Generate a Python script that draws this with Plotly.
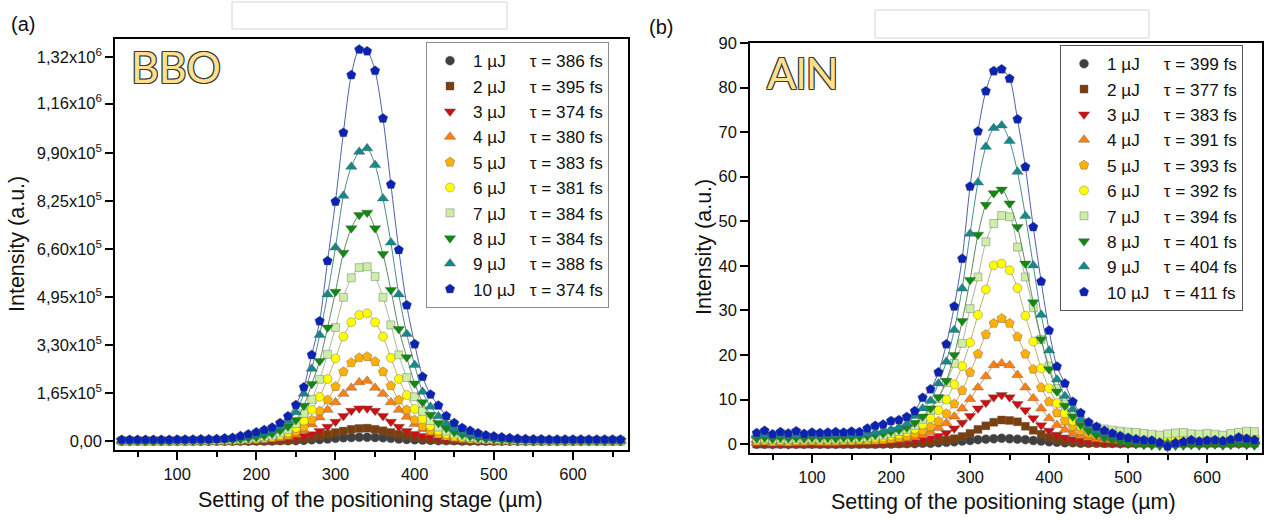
import plotly.graph_objects as go

# ---------------- data ----------------
stage = list(range(30, 661, 10))  # positioning stage settings (µm)

energies = ["1 µJ", "2 µJ", "3 µJ", "4 µJ", "5 µJ", "6 µJ", "7 µJ", "8 µJ", "9 µJ", "10 µJ"]
tau_bbo = [386, 395, 374, 380, 383, 381, 384, 384, 388, 374]
tau_aln = [399, 377, 383, 391, 393, 392, 394, 401, 404, 411]

# BBO intensities in units of 1e5
bbo_1 = [0]*13 + [0, 0, 0, 0, 0, 0, 0, 0.01, 0.01, 0.01,
                  0.02, 0.04, 0.05, 0.07, 0.09, 0.11, 0.12, 0.13, 0.13, 0.12,
                  0.11, 0.09, 0.07, 0.05, 0.04, 0.03, 0.02, 0.01, 0.01, 0.01,
                  0, 0, 0, 0, 0, 0, 0, 0, 0, 0,
                  0, 0, 0, 0, 0, 0, 0, 0, 0, 0, 0]
bbo_2 = [0]*13 + [0, 0, 0, 0, 0.01, 0.01, 0.02, 0.02, 0.03, 0.05,
                  0.08, 0.12, 0.18, 0.23, 0.29, 0.34, 0.40, 0.43, 0.44, 0.40,
                  0.35, 0.29, 0.23, 0.18, 0.13, 0.09, 0.06, 0.04, 0.03, 0.02,
                  0.01, 0.01, 0.01, 0, 0, 0, 0, 0, 0, 0,
                  0, 0, 0, 0, 0, 0, 0, 0, 0, 0, 0]
bbo_3 = [0]*13 + [0, 0, 0.01, 0.01, 0.02, 0.03, 0.04, 0.05, 0.08, 0.12,
                  0.17, 0.23, 0.34, 0.49, 0.66, 0.86, 1.04, 1.12, 1.12, 1.04,
                  0.86, 0.66, 0.49, 0.34, 0.24, 0.17, 0.12, 0.08, 0.06, 0.04,
                  0.03, 0.02, 0.01, 0.01, 0, 0, 0, 0, 0, 0,
                  0, 0, 0, 0, 0, 0, 0, 0, 0, 0, 0]
bbo_4 = [0]*13 + [0, 0.01, 0.02, 0.03, 0.04, 0.05, 0.07, 0.10, 0.14, 0.21,
                  0.37, 0.57, 0.81, 1.07, 1.33, 1.62, 1.83, 2.02, 2.07, 1.83,
                  1.62, 1.33, 1.07, 0.83, 0.58, 0.40, 0.28, 0.19, 0.13, 0.09,
                  0.07, 0.05, 0.04, 0.03, 0.02, 0.01, 0.01, 0.01, 0, 0,
                  0, 0, 0, 0, 0, 0, 0, 0, 0, 0, 0]
bbo_5 = [0]*11 + [0.01, 0.01,
                  0.01, 0.02, 0.03, 0.04, 0.06, 0.08, 0.11, 0.15, 0.21, 0.32,
                  0.48, 0.72, 1.03, 1.41, 1.87, 2.38, 2.69, 2.86, 2.90, 2.73,
                  2.38, 1.90, 1.41, 1.07, 0.72, 0.50, 0.35, 0.24, 0.17, 0.12,
                  0.09, 0.06, 0.05, 0.04, 0.03, 0.02, 0.02, 0.01, 0.01, 0.01,
                  0, 0, 0, 0, 0, 0, 0, 0, 0, 0, 0]
bbo_6 = [0]*10 + [0.01, 0.01, 0.01,
                  0.02, 0.03, 0.04, 0.06, 0.08, 0.11, 0.15, 0.21, 0.30, 0.45,
                  0.70, 1.07, 1.52, 2.13, 2.84, 3.59, 4.08, 4.33, 4.39, 4.08,
                  3.59, 2.86, 2.13, 1.58, 1.10, 0.76, 0.52, 0.36, 0.25, 0.18,
                  0.13, 0.09, 0.07, 0.05, 0.04, 0.03, 0.02, 0.02, 0.01, 0.01,
                  0.01, 0, 0, 0, 0, 0, 0, 0, 0, 0, 0]
bbo_7 = [0.01, 0.01, 0.01, 0.01, 0.01, 0.01, 0.01, 0.01, 0.01, 0.01, 0.02, 0.02, 0.02,
         0.03, 0.04, 0.06, 0.08, 0.11, 0.15, 0.20, 0.28, 0.40, 0.60,
         0.95, 1.43, 2.12, 2.98, 3.90, 4.94, 5.61, 5.96, 5.99, 5.65,
         4.94, 3.99, 2.96, 2.18, 1.52, 1.02, 0.70, 0.48, 0.34, 0.24,
         0.17, 0.12, 0.09, 0.06, 0.05, 0.04, 0.03, 0.02, 0.02, 0.02,
         0.02, 0.01, 0.01, 0.01, 0.01, 0.01, 0.01, 0.01, 0.01, 0.01, 0.01]
bbo_8 = [0, 0, 0, 0, 0, 0, 0, 0.01, 0.01, 0.01, 0.01, 0.02, 0.03,
         0.04, 0.05, 0.07, 0.10, 0.14, 0.19, 0.26, 0.36, 0.50, 0.72,
         1.21, 1.96, 2.75, 3.90, 5.13, 6.47, 7.31, 7.77, 7.85, 7.31,
         6.43, 5.19, 3.85, 2.88, 1.98, 1.33, 0.90, 0.62, 0.44, 0.31,
         0.22, 0.16, 0.11, 0.08, 0.06, 0.04, 0.03, 0.02, 0.01, 0.01,
         0.01, 0, 0, 0, 0, 0, 0, 0, 0, 0, 0]
bbo_9 = [0.02, 0.02, 0.02, 0.02, 0.02, 0.02, 0.02, 0.02, 0.03, 0.03, 0.03, 0.04, 0.05,
         0.06, 0.08, 0.11, 0.15, 0.20, 0.27, 0.36, 0.49, 0.68, 0.99,
         1.62, 2.48, 3.64, 5.04, 6.65, 8.43, 9.43, 9.94, 10.06, 9.49,
         8.34, 6.82, 5.04, 3.68, 2.61, 1.69, 1.18, 0.85, 0.60, 0.42,
         0.30, 0.22, 0.16, 0.12, 0.09, 0.07, 0.05, 0.04, 0.03, 0.03,
         0.03, 0.02, 0.02, 0.02, 0.02, 0.02, 0.02, 0.02, 0.02, 0.02, 0.02]
bbo_10 = [0.04, 0.04, 0.04, 0.04, 0.04, 0.04, 0.04, 0.05, 0.05, 0.05, 0.06, 0.06, 0.07,
          0.09, 0.11, 0.17, 0.23, 0.30, 0.38, 0.46, 0.62, 0.85, 1.24,
          1.85, 2.96, 4.12, 6.19, 8.23, 10.60, 12.58, 13.46, 13.40, 12.73,
          11.09, 8.82, 6.57, 4.67, 3.33, 2.21, 1.60, 1.22, 0.86, 0.62,
          0.45, 0.35, 0.27, 0.20, 0.16, 0.13, 0.10, 0.08, 0.07, 0.06,
          0.06, 0.05, 0.05, 0.05, 0.05, 0.05, 0.05, 0.05, 0.05, 0.05, 0.05]

# AlN intensities (a.u.)
aln_1 = [0]*13 + [0, 0, 0, 0, 0, 0.1, 0.1, 0.1, 0.2, 0.2,
                  0.3, 0.4, 0.5, 0.7, 0.8, 1.0, 1.1, 1.2, 1.3, 1.2,
                  1.1, 1.0, 0.8, 0.7, 0.5, 0.4, 0.3, 0.3, 0.2, 0.2,
                  0.2, 0.2, 0.2, 0.2, 0.2, 0.2, 0.2, 0.2, 0.2, 0.2,
                  0.2, 0.2, 0.2, 0.2, 0.2, 0.2, 0.2, 0.2, 0.2, 0.2, 0.2]
aln_2 = [0]*13 + [0, 0, 0, 0.1, 0.1, 0.1, 0.2, 0.3, 0.4, 0.5,
                  0.7, 0.9, 1.2, 1.7, 2.4, 3.3, 4.1, 4.9, 5.4, 5.3,
                  5.0, 4.0, 3.1, 2.2, 1.5, 1.0, 0.7, 0.5, 0.4, 0.3,
                  0.3, 0.2, 0.2, 0.2, 0.2, 0.2, 0.2, 0.2, 0.2, 0.2,
                  0.2, 0.2, 0.2, 0.2, 0.2, 0.2, 0.2, 0.2, 0.2, 0.2, 0.2]
aln_3 = [0.0, 0.1, -0.1, 0.0, -0.1, 0.0, 0.0, 0.1, 0.0, 0.0, 0.0, 0.1, 0.1,
         0.1, 0.2, 0.2, 0.3, 0.4, 0.5, 0.6, 0.8, 1.0, 1.3,
         1.8, 2.5, 3.5, 4.8, 6.3, 8.0, 9.3, 10.5, 11.0, 10.5,
         9.0, 7.6, 5.8, 4.2, 3.0, 2.1, 1.5, 1.1, 0.8, 0.6,
         0.4, 0.3, 0.2, 0.1, 0.1, 0.0, 0.0, 0.1, 0.0, -0.1,
         0.0, 0.1, 0.0, 0.0, 0.1, 0.0, 0.0, 0.1, 0.1, 0.1, 0.0]
aln_4 = [0.3, 0.4, 0.2, 0.3, 0.2, 0.3, 0.3, 0.4, 0.3, 0.3, 0.3, 0.4, 0.4,
         0.4, 0.5, 0.6, 0.7, 0.8, 1.0, 1.2, 1.5, 2.0, 2.7,
         3.6, 4.7, 6.2, 8.0, 10.1, 12.7, 15.2, 17.7, 18.1, 17.7,
         15.5, 12.7, 10.3, 8.0, 5.8, 4.3, 3.2, 2.4, 1.8, 1.4,
         1.1, 0.9, 0.8, 0.7, 0.6, 0.5, 0.5, 0.4, 0.4, 0.5,
         0.5, 0.5, 0.4, 0.4, 0.5, 0.4, 0.4, 0.5, 0.6, 0.6, 0.5]
aln_5 = [0.6, 0.7, 0.5, 0.6, 0.5, 0.6, 0.6, 0.7, 0.6, 0.6, 0.6, 0.7, 0.7,
         0.8, 0.8, 0.9, 1.0, 1.2, 1.5, 1.8, 2.3, 3.0, 3.9,
         5.1, 6.8, 9.0, 12.0, 16.1, 20.2, 24.6, 27.1, 28.2, 27.1,
         24.1, 20.2, 16.8, 12.7, 9.5, 7.0, 5.2, 3.9, 3.0, 2.4,
         2.0, 1.7, 1.5, 1.3, 1.2, 1.1, 1.0, 0.9, 0.9, 1.0,
         1.1, 1.1, 1.0, 0.9, 1.0, 0.9, 0.9, 1.1, 1.2, 1.3, 1.2]
aln_6 = [0.9, 1.0, 0.8, 0.9, 0.8, 0.9, 0.9, 1.0, 0.9, 0.9, 0.9, 1.0, 1.0,
         1.1, 1.2, 1.4, 1.6, 1.9, 2.2, 2.7, 3.4, 4.4, 5.8,
         7.6, 10.0, 13.4, 17.5, 22.8, 29.0, 34.7, 40.1, 40.5, 39.0,
         35.0, 28.8, 23.0, 17.0, 12.5, 9.2, 6.9, 5.2, 4.0, 3.2,
         2.6, 2.2, 1.9, 1.7, 1.6, 1.5, 1.4, 1.3, 1.3, 1.4,
         1.5, 1.6, 1.4, 1.3, 1.4, 1.3, 1.2, 1.5, 1.7, 1.8, 1.7]
aln_7 = [1.2, 1.3, 1.1, 1.2, 1.1, 1.2, 1.2, 1.3, 1.2, 1.2, 1.2, 1.3, 1.3,
         1.4, 1.5, 1.8, 2.0, 2.4, 2.8, 3.3, 4.2, 5.6, 7.6,
         10.2, 13.8, 18.1, 22.6, 30.4, 37.5, 45.4, 49.5, 51.3, 51.0,
         44.2, 37.5, 30.6, 23.5, 17.5, 12.5, 9.0, 6.8, 5.2, 4.3,
         3.8, 3.4, 3.1, 2.9, 2.7, 2.6, 2.4, 2.2, 2.0, 2.3,
         2.5, 2.6, 2.3, 2.2, 2.4, 2.2, 2.0, 2.4, 2.6, 2.9, 2.8]
aln_8 = [1.3, 1.5, 1.2, 1.4, 1.3, 1.4, 1.3, 1.5, 1.4, 1.4, 1.3, 1.5, 1.5,
         1.6, 1.8, 2.1, 2.4, 2.8, 3.2, 3.7, 4.8, 6.2, 8.0,
         10.5, 14.2, 20.0, 27.6, 36.8, 47.0, 53.7, 56.3, 57.1, 54.0,
         48.7, 40.5, 31.8, 23.5, 16.8, 11.8, 8.6, 6.2, 4.3, 3.0,
         2.1, 1.4, 0.9, 0.5, 0.2, 0.0, -0.2, -0.3, -0.4, -0.7,
         -0.4, -0.3, -0.2, -0.3, -0.2, -0.1, -0.3, -0.2, 0.0, -0.2, -0.3]
aln_9 = [1.9, 2.0, 1.8, 2.0, 1.8, 1.9, 1.9, 2.0, 1.9, 2.0, 1.9, 2.0, 2.0,
         2.1, 2.3, 2.6, 2.9, 3.3, 3.8, 4.5, 6.3, 8.0, 9.7,
         13.6, 18.5, 25.6, 34.9, 47.2, 58.7, 66.7, 70.9, 71.5, 68.0,
         61.1, 51.2, 40.1, 29.0, 21.0, 14.5, 10.8, 7.8, 5.5, 4.0,
         3.0, 2.3, 1.8, 1.4, 1.1, 0.9, 0.7, 0.6, 0.4, 0.2,
         0.4, 0.5, 0.6, 0.5, 0.6, 0.7, 0.6, 0.7, 0.9, 0.8, 0.7]
aln_10 = [2.5, 3.0, 2.2, 2.7, 2.4, 2.9, 2.3, 2.6, 2.5, 2.6, 2.7, 2.6, 2.8,
          2.7, 3.5, 4.1, 4.4, 5.2, 5.4, 6.1, 7.4, 10.4, 12.3,
          16.1, 22.4, 30.9, 41.6, 57.8, 70.2, 79.2, 83.7, 84.1, 82.0,
          72.9, 62.2, 48.7, 36.5, 25.5, 17.4, 13.6, 9.5, 7.0, 4.9,
          3.9, 3.0, 2.4, 1.8, 1.4, 1.1, 0.9, 0.8, 0.3, -0.5,
          0.2, 0.5, 0.9, 0.6, 0.8, 0.9, 0.7, 1.0, 1.5, 1.2, 0.9]

bbo_series = [bbo_1, bbo_2, bbo_3, bbo_4, bbo_5, bbo_6, bbo_7, bbo_8, bbo_9, bbo_10]
aln_series = [aln_1, aln_2, aln_3, aln_4, aln_5, aln_6, aln_7, aln_8, aln_9, aln_10]

bbo_ticks = [0, 1.65e5, 3.30e5, 4.95e5, 6.60e5, 8.25e5, 9.90e5, 1.16e6, 1.32e6]
bbo_ticktext = ["0,00", "1,65x10<sup>5</sup>", "3,30x10<sup>5</sup>", "4,95x10<sup>5</sup>",
                "6,60x10<sup>5</sup>", "8,25x10<sup>5</sup>", "9,90x10<sup>5</sup>",
                "1,16x10<sup>6</sup>", "1,32x10<sup>6</sup>"]
aln_ticks = [0, 10, 20, 30, 40, 50, 60, 70, 80, 90]
x_ticks = [100, 200, 300, 400, 500, 600]

# ---------------- styles ----------------
marker_colors = ["#404040", "#7b3f0e", "#cc1010", "#ff7f0f", "#ffb000",
                 "#ffff00", "#cdeea5", "#0e8a0e", "#14898a", "#0a23b4"]
line_colors = ["#606060", "#8a6a50", "#b05050", "#d09060", "#c8a868",
               "#b8b070", "#a8b898", "#5a8a5a", "#4a8a8a", "#5060a8"]
symbols = ["circle", "square", "triangle-down", "triangle-up", "pentagon",
           "circle", "square", "triangle-down", "triangle-up", "pentagon"]
sizes = [9, 8, 10, 10, 10, 9, 8, 10, 10, 10]

W, H = 1264, 520
def px(x):
    return x / W
def py(y):
    return 1 - y / H

FONT = "Liberation Sans, Arial, sans-serif"
NB = "\u00a0"

fig = go.Figure()

for panel, series, taus, xa, ya, leg in [
    ("a", bbo_series, tau_bbo, "x", "y", "legend"),
    ("b", aln_series, tau_aln, "x2", "y2", "legend2"),
]:
    for i, vals in enumerate(series):
        yv = [v * 1e5 for v in vals] if panel == "a" else vals
        fig.add_trace(go.Scatter(
            x=stage, y=yv, mode="lines", xaxis=xa, yaxis=ya,
            line=dict(color=line_colors[i], width=1, shape="spline", smoothing=0.8),
            showlegend=False, hoverinfo="skip"))
        pad = NB * (3 if len(energies[i]) > 4 else 5)
        fig.add_trace(go.Scatter(
            x=stage, y=yv, mode="markers", xaxis=xa, yaxis=ya,
            name=f"{energies[i]}{pad}τ = {taus[i]} fs", legend=leg,
            marker=dict(color=marker_colors[i], symbol=symbols[i], size=sizes[i],
                        line=dict(color="rgba(90,90,90,0.55)", width=0.7))))

axis_common = dict(showgrid=False, zeroline=False, showline=True, linecolor="black",
                   linewidth=1.5, mirror=True, ticks="outside", tickcolor="black",
                   tickwidth=1.5, ticklen=8, automargin=False,
                   tickfont=dict(family=FONT, size=16.5, color="#111"))

xa_dom = [px(115), px(628)]
xb_dom = [px(750), px(1262)]
ya_dom = [py(450), py(39)]
yb_dom = [py(453), py(43)]

xcommon = dict(axis_common, range=[21.5, 669.5], tickvals=x_ticks,
               minor=dict(dtick=50, tick0=0, ticks="outside", ticklen=5,
                          tickwidth=1.5, tickcolor="black"))

legend_common = dict(xanchor="left", yanchor="top", bgcolor="white", borderwidth=1,
                     font=dict(family=FONT, size=17.2, color="#111"),
                     traceorder="normal", itemclick=False, itemwidth=36,
                     entrywidth=150, entrywidthmode="pixels")

overlay_common = dict(side="left", ticks="inside", ticklen=8, tickwidth=1.5,
                      tickcolor="black", showticklabels=False, showline=False,
                      showgrid=False, zeroline=False, automargin=False)

fig.update_layout(
    width=W, height=H, margin=dict(l=0, r=0, t=0, b=0, pad=0, autoexpand=False),
    paper_bgcolor="white", plot_bgcolor="white",
    xaxis=dict(xcommon, domain=xa_dom, anchor="y"),
    yaxis=dict(axis_common, domain=ya_dom, anchor="x", range=[-0.031e6, 1.382e6],
               tickvals=bbo_ticks, ticktext=bbo_ticktext),
    xaxis2=dict(xcommon, domain=xb_dom, anchor="y2"),
    yaxis2=dict(axis_common, domain=yb_dom, anchor="x2", range=[-2, 90],
                tickvals=aln_ticks),
    # inner halves of crossing y ticks
    yaxis3=dict(overlay_common, overlaying="y", anchor="x",
                range=[-0.031e6, 1.382e6], tickvals=bbo_ticks),
    yaxis4=dict(overlay_common, overlaying="y2", anchor="x2",
                range=[-2, 90], tickvals=aln_ticks),
    legend=dict(legend_common, x=px(426), y=py(42), bordercolor="#8c8c8c"),
    legend2=dict(legend_common, x=px(1060), y=py(45), bordercolor="#555555"),
    showlegend=True,
)

outline = ("1px 1px 0 #3a3a3a, -1px -1px 0 #3a3a3a, 1px -1px 0 #3a3a3a, "
           "-1px 1px 0 #3a3a3a, 0 1px 0 #3a3a3a, 0 -1px 0 #3a3a3a, "
           "1px 0 0 #3a3a3a, -1px 0 0 #3a3a3a")

def ann(text, x, y, size, family=FONT, color="#111", angle=0, xanchor="center",
        shadow=None):
    f = dict(family=family, size=size, color=color)
    if shadow:
        f["shadow"] = shadow
    return dict(text=text, x=px(x), y=py(y), xref="paper", yref="paper",
                xanchor=xanchor, yanchor="middle", showarrow=False,
                textangle=angle, font=f)

annotations = [
    ann("(a)", 23, 24, 20),
    ann("(b)", 661, 27, 20),
    ann("BBO", 129, 66, 43, family="Lato, Open Sans, sans-serif", color="#FFE08C",
        xanchor="left", shadow=outline),
    ann("AlN", 765, 73, 43, family="Lato, Open Sans, sans-serif", color="#FFE08C",
        xanchor="left", shadow=outline),
    ann("Intensity (a.u.)", 17, 244, 21.5, angle=-90),
    ann("Intensity (a.u.)", 704, 247, 21.5, angle=-90),
    ann("Setting of the positioning stage (µm)", 370, 500, 21.5),
    ann("Setting of the positioning stage (µm)", 1003, 502, 21.5),
]
fig.update_layout(annotations=annotations)

fig.update_layout(shapes=[
    dict(type="rect", xref="paper", yref="paper", x0=px(232), x1=px(507),
         y0=py(29), y1=py(2), line=dict(color="#d4d4d4", width=1)),
    dict(type="rect", xref="paper", yref="paper", x0=px(875), x1=px(1149),
         y0=py(38), y1=py(10), line=dict(color="#d4d4d4", width=1)),
])

fig.write_html("out.html", config={"displayModeBar": False},
               post_script="document.body.style.margin='0px';"
                           "document.body.style.overflow='hidden';")
